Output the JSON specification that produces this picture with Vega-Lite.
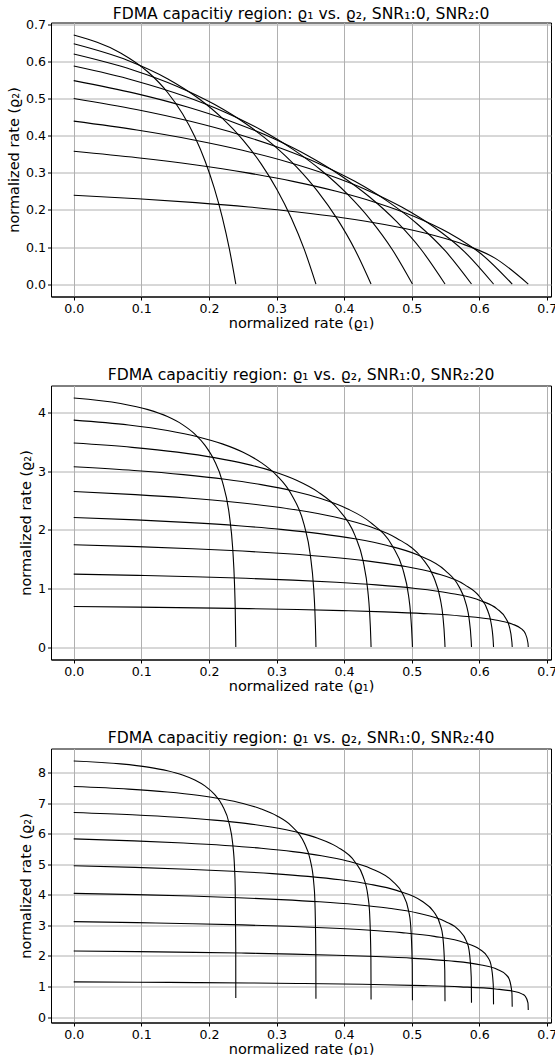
{
 "$schema": "https://vega.github.io/schema/vega-lite/v6.json",
 "background": "white",
 "padding": {"left": 5, "top": 6.5, "right": 0, "bottom": 0},
 "spacing": 89,
 "bounds": "flush",
 "config": {
  "font": "DejaVu Sans",
  "view": {"stroke": "black", "strokeWidth": 1},
  "axis": {
   "domainColor": "black", "domainWidth": 1,
   "tickColor": "black", "tickSize": 3.5, "tickWidth": 1,
   "labelFont": "DejaVu Sans", "labelFontSize": 12.6, "labelColor": "black", "labelPadding": 2,
   "titleFont": "DejaVu Sans", "titleFontSize": 14.5, "titleFontWeight": "normal", "titleColor": "black",
   "grid": true, "gridColor": "#b0b0b0", "gridWidth": 1
  },
  "axisX": {"titlePadding": 1.5},
  "axisY": {"titlePadding": 4},
  "title": {"font": "DejaVu Sans", "fontSize": 15.6, "fontWeight": "normal", "color": "black", "baseline": "alphabetic", "anchor": "middle"}
 },
 "datasets": {
  "p0": [
   {"k":1,"i":0,"x":0,"y":0.67249},{"k":1,"i":1,"x":0.06931,"y":0.62383},{"k":1,"i":2,"x":0.10986,"y":0.57239},{"k":1,"i":3,"x":0.13863,"y":0.51783},{"k":1,"i":4,"x":0.16094,"y":0.45974},{"k":1,"i":5,"x":0.17918,"y":0.39765},{"k":1,"i":6,"x":0.19459,"y":0.33095},{"k":1,"i":7,"x":0.20794,"y":0.25891},{"k":1,"i":8,"x":0.21972,"y":0.1806},{"k":1,"i":9,"x":0.23026,"y":0.09482},{"k":1,"i":10,"x":0.23979,"y":0},
   {"k":2,"i":0,"x":0,"y":0.64874},{"k":2,"i":1,"x":0.08109,"y":0.60302},{"k":2,"i":2,"x":0.13863,"y":0.55452},{"k":2,"i":3,"x":0.18326,"y":0.50289},{"k":2,"i":4,"x":0.21972,"y":0.44769},{"k":2,"i":5,"x":0.25055,"y":0.38841},{"k":2,"i":6,"x":0.27726,"y":0.32437},{"k":2,"i":7,"x":0.30082,"y":0.25476},{"k":2,"i":8,"x":0.32189,"y":0.17851},{"k":2,"i":9,"x":0.34095,"y":0.09423},{"k":2,"i":10,"x":0.35835,"y":0},
   {"k":3,"i":0,"x":0,"y":0.62111},{"k":3,"i":1,"x":0.0863,"y":0.57868},{"k":3,"i":2,"x":0.15325,"y":0.5335},{"k":3,"i":3,"x":0.20794,"y":0.4852},{"k":3,"i":4,"x":0.25419,"y":0.43333},{"k":3,"i":5,"x":0.29425,"y":0.3773},{"k":3,"i":6,"x":0.32958,"y":0.31639},{"k":3,"i":7,"x":0.36119,"y":0.24967},{"k":3,"i":8,"x":0.38978,"y":0.17592},{"k":3,"i":9,"x":0.41589,"y":0.09347},{"k":3,"i":10,"x":0.4399,"y":0},
   {"k":4,"i":0,"x":0,"y":0.5885},{"k":4,"i":1,"x":0.08926,"y":0.54977},{"k":4,"i":2,"x":0.16219,"y":0.50838},{"k":4,"i":3,"x":0.22385,"y":0.46391},{"k":4,"i":4,"x":0.27726,"y":0.41589},{"k":4,"i":5,"x":0.32437,"y":0.36368},{"k":4,"i":6,"x":0.36652,"y":0.3065},{"k":4,"i":7,"x":0.40464,"y":0.24328},{"k":4,"i":8,"x":0.43944,"y":0.17261},{"k":4,"i":9,"x":0.47146,"y":0.09249},{"k":4,"i":10,"x":0.50111,"y":0},
   {"k":5,"i":0,"x":0,"y":0.54931},{"k":5,"i":1,"x":0.09116,"y":0.51481},{"k":5,"i":2,"x":0.16824,"y":0.47776},{"k":5,"i":3,"x":0.235,"y":0.43773},{"k":5,"i":4,"x":0.29389,"y":0.39423},{"k":5,"i":5,"x":0.34657,"y":0.34657},{"k":5,"i":6,"x":0.39423,"y":0.29389},{"k":5,"i":7,"x":0.43773,"y":0.235},{"k":5,"i":8,"x":0.47776,"y":0.16824},{"k":5,"i":9,"x":0.51481,"y":0.09116},{"k":5,"i":10,"x":0.54931,"y":0},
   {"k":6,"i":0,"x":0,"y":0.50111},{"k":6,"i":1,"x":0.09249,"y":0.47146},{"k":6,"i":2,"x":0.17261,"y":0.43944},{"k":6,"i":3,"x":0.24328,"y":0.40464},{"k":6,"i":4,"x":0.3065,"y":0.36652},{"k":6,"i":5,"x":0.36368,"y":0.32437},{"k":6,"i":6,"x":0.41589,"y":0.27726},{"k":6,"i":7,"x":0.46391,"y":0.22385},{"k":6,"i":8,"x":0.50838,"y":0.16219},{"k":6,"i":9,"x":0.54977,"y":0.08926},{"k":6,"i":10,"x":0.5885,"y":0},
   {"k":7,"i":0,"x":0,"y":0.4399},{"k":7,"i":1,"x":0.09347,"y":0.41589},{"k":7,"i":2,"x":0.17592,"y":0.38978},{"k":7,"i":3,"x":0.24967,"y":0.36119},{"k":7,"i":4,"x":0.31639,"y":0.32958},{"k":7,"i":5,"x":0.3773,"y":0.29425},{"k":7,"i":6,"x":0.43333,"y":0.25419},{"k":7,"i":7,"x":0.4852,"y":0.20794},{"k":7,"i":8,"x":0.5335,"y":0.15325},{"k":7,"i":9,"x":0.57868,"y":0.0863},{"k":7,"i":10,"x":0.62111,"y":0},
   {"k":8,"i":0,"x":0,"y":0.35835},{"k":8,"i":1,"x":0.09423,"y":0.34095},{"k":8,"i":2,"x":0.17851,"y":0.32189},{"k":8,"i":3,"x":0.25476,"y":0.30082},{"k":8,"i":4,"x":0.32437,"y":0.27726},{"k":8,"i":5,"x":0.38841,"y":0.25055},{"k":8,"i":6,"x":0.44769,"y":0.21972},{"k":8,"i":7,"x":0.50289,"y":0.18326},{"k":8,"i":8,"x":0.55452,"y":0.13863},{"k":8,"i":9,"x":0.60302,"y":0.08109},{"k":8,"i":10,"x":0.64874,"y":0},
   {"k":9,"i":0,"x":0,"y":0.23979},{"k":9,"i":1,"x":0.09482,"y":0.23026},{"k":9,"i":2,"x":0.1806,"y":0.21972},{"k":9,"i":3,"x":0.25891,"y":0.20794},{"k":9,"i":4,"x":0.33095,"y":0.19459},{"k":9,"i":5,"x":0.39765,"y":0.17918},{"k":9,"i":6,"x":0.45974,"y":0.16094},{"k":9,"i":7,"x":0.51783,"y":0.13863},{"k":9,"i":8,"x":0.57239,"y":0.10986},{"k":9,"i":9,"x":0.62383,"y":0.06931},{"k":9,"i":10,"x":0.67249,"y":0}
  ],
  "p20": [
   {"k":1,"i":0,"x":0,"y":4.24754},{"k":1,"i":1,"x":0.06931,"y":4.15361},{"k":1,"i":2,"x":0.10986,"y":4.04871},{"k":1,"i":3,"x":0.13863,"y":3.92998},{"k":1,"i":4,"x":0.16094,"y":3.79313},{"k":1,"i":5,"x":0.17918,"y":3.6317},{"k":1,"i":6,"x":0.19459,"y":3.43484},{"k":1,"i":7,"x":0.20794,"y":3.18251},{"k":1,"i":8,"x":0.21972,"y":2.8306},{"k":1,"i":9,"x":0.23026,"y":2.24471},{"k":1,"i":10,"x":0.23514,"y":1.69228},{"k":1,"i":11,"x":0.23795,"y":1.05306},{"k":1,"i":12,"x":0.23888,"y":0.67249},{"k":1,"i":13,"x":0.2397,"y":0.09482},{"k":1,"i":14,"x":0.23979,"y":0},
   {"k":2,"i":0,"x":0,"y":3.86902},{"k":2,"i":1,"x":0.08109,"y":3.78544},{"k":2,"i":2,"x":0.13863,"y":3.6921},{"k":2,"i":3,"x":0.18326,"y":3.5864},{"k":2,"i":4,"x":0.21972,"y":3.46458},{"k":2,"i":5,"x":0.25055,"y":3.32083},{"k":2,"i":6,"x":0.27726,"y":3.14546},{"k":2,"i":7,"x":0.30082,"y":2.92053},{"k":2,"i":8,"x":0.32189,"y":2.60648},{"k":2,"i":9,"x":0.34095,"y":2.08215},{"k":2,"i":10,"x":0.34984,"y":1.5848},{"k":2,"i":11,"x":0.35499,"y":1.00221},{"k":2,"i":12,"x":0.35668,"y":0.64874},{"k":2,"i":13,"x":0.35819,"y":0.09423},{"k":2,"i":14,"x":0.35835,"y":0},
   {"k":3,"i":0,"x":0,"y":3.47817},{"k":3,"i":1,"x":0.0863,"y":3.40496},{"k":3,"i":2,"x":0.15325,"y":3.32319},{"k":3,"i":3,"x":0.20794,"y":3.23058},{"k":3,"i":4,"x":0.25419,"y":3.12383},{"k":3,"i":5,"x":0.29425,"y":2.99782},{"k":3,"i":6,"x":0.32958,"y":2.84403},{"k":3,"i":7,"x":0.36119,"y":2.64665},{"k":3,"i":8,"x":0.38978,"y":2.37077},{"k":3,"i":9,"x":0.41589,"y":1.90884},{"k":3,"i":10,"x":0.42813,"y":1.468},{"k":3,"i":11,"x":0.43525,"y":0.94495},{"k":3,"i":12,"x":0.43758,"y":0.62111},{"k":3,"i":13,"x":0.43967,"y":0.09347},{"k":3,"i":14,"x":0.4399,"y":0},
   {"k":4,"i":0,"x":0,"y":3.07318},{"k":4,"i":1,"x":0.08926,"y":3.01037},{"k":4,"i":2,"x":0.16219,"y":2.9402},{"k":4,"i":3,"x":0.22385,"y":2.86071},{"k":4,"i":4,"x":0.27726,"y":2.76907},{"k":4,"i":5,"x":0.32437,"y":2.66087},{"k":4,"i":6,"x":0.36652,"y":2.52875},{"k":4,"i":7,"x":0.40464,"y":2.3591},{"k":4,"i":8,"x":0.43944,"y":2.12167},{"k":4,"i":9,"x":0.47146,"y":1.72301},{"k":4,"i":10,"x":0.48656,"y":1.34015},{"k":4,"i":11,"x":0.49535,"y":0.8798},{"k":4,"i":12,"x":0.49824,"y":0.5885},{"k":4,"i":13,"x":0.50082,"y":0.09249},{"k":4,"i":14,"x":0.50111,"y":0},
   {"k":5,"i":0,"x":0,"y":2.65165},{"k":5,"i":1,"x":0.09116,"y":2.59925},{"k":5,"i":2,"x":0.16824,"y":2.5407},{"k":5,"i":3,"x":0.235,"y":2.47438},{"k":5,"i":4,"x":0.29389,"y":2.3979},{"k":5,"i":5,"x":0.34657,"y":2.30756},{"k":5,"i":6,"x":0.39423,"y":2.19722},{"k":5,"i":7,"x":0.43773,"y":2.05544},{"k":5,"i":8,"x":0.47776,"y":1.85679},{"k":5,"i":9,"x":0.51481,"y":1.52226},{"k":5,"i":10,"x":0.53236,"y":1.19895},{"k":5,"i":11,"x":0.54259,"y":0.80472},{"k":5,"i":12,"x":0.54596,"y":0.54931},{"k":5,"i":13,"x":0.54897,"y":0.09116},{"k":5,"i":14,"x":0.54931,"y":0},
   {"k":6,"i":0,"x":0,"y":2.21018},{"k":6,"i":1,"x":0.09249,"y":2.16821},{"k":6,"i":2,"x":0.17261,"y":2.12132},{"k":6,"i":3,"x":0.24328,"y":2.06819},{"k":6,"i":4,"x":0.3065,"y":2.00691},{"k":6,"i":5,"x":0.36368,"y":1.93451},{"k":6,"i":6,"x":0.41589,"y":1.84605},{"k":6,"i":7,"x":0.46391,"y":1.73229},{"k":6,"i":8,"x":0.50838,"y":1.57273},{"k":6,"i":9,"x":0.54977,"y":1.30324},{"k":6,"i":10,"x":0.56945,"y":1.04108},{"k":6,"i":11,"x":0.58095,"y":0.7167},{"k":6,"i":12,"x":0.58474,"y":0.50111},{"k":6,"i":13,"x":0.58812,"y":0.08926},{"k":6,"i":14,"x":0.5885,"y":0},
   {"k":7,"i":0,"x":0,"y":1.74364},{"k":7,"i":1,"x":0.09347,"y":1.71213},{"k":7,"i":2,"x":0.17592,"y":1.67692},{"k":7,"i":3,"x":0.24967,"y":1.63702},{"k":7,"i":4,"x":0.31639,"y":1.59099},{"k":7,"i":5,"x":0.3773,"y":1.53659},{"k":7,"i":6,"x":0.43333,"y":1.4701},{"k":7,"i":7,"x":0.4852,"y":1.38454},{"k":7,"i":8,"x":0.5335,"y":1.26438},{"k":7,"i":9,"x":0.57868,"y":1.06084},{"k":7,"i":10,"x":0.60022,"y":0.8615},{"k":7,"i":11,"x":0.61283,"y":0.61106},{"k":7,"i":12,"x":0.61698,"y":0.4399},{"k":7,"i":13,"x":0.6207,"y":0.0863},{"k":7,"i":14,"x":0.62111,"y":0},
   {"k":8,"i":0,"x":0,"y":1.24332},{"k":8,"i":1,"x":0.09423,"y":1.22229},{"k":8,"i":2,"x":0.17851,"y":1.19879},{"k":8,"i":3,"x":0.25476,"y":1.17216},{"k":8,"i":4,"x":0.32437,"y":1.14142},{"k":8,"i":5,"x":0.38841,"y":1.10509},{"k":8,"i":6,"x":0.44769,"y":1.06066},{"k":8,"i":7,"x":0.50289,"y":1.00346},{"k":8,"i":8,"x":0.55452,"y":0.92302},{"k":8,"i":9,"x":0.60302,"y":0.78637},{"k":8,"i":10,"x":0.62621,"y":0.65162},{"k":8,"i":11,"x":0.63981,"y":0.47958},{"k":8,"i":12,"x":0.64429,"y":0.35835},{"k":8,"i":13,"x":0.6483,"y":0.08109},{"k":8,"i":14,"x":0.64874,"y":0},
   {"k":9,"i":0,"x":0,"y":0.69088},{"k":9,"i":1,"x":0.09482,"y":0.68035},{"k":9,"i":2,"x":0.1806,"y":0.66859},{"k":9,"i":3,"x":0.25891,"y":0.65525},{"k":9,"i":4,"x":0.33095,"y":0.63986},{"k":9,"i":5,"x":0.39765,"y":0.62166},{"k":9,"i":6,"x":0.45974,"y":0.5994},{"k":9,"i":7,"x":0.51783,"y":0.57071},{"k":9,"i":8,"x":0.57239,"y":0.53033},{"k":9,"i":9,"x":0.62383,"y":0.46151},{"k":9,"i":10,"x":0.64849,"y":0.39318},{"k":9,"i":11,"x":0.66297,"y":0.30445},{"k":9,"i":12,"x":0.66774,"y":0.23979},{"k":9,"i":13,"x":0.67202,"y":0.06931},{"k":9,"i":14,"x":0.67249,"y":0}
  ],
  "p40": [
   {"k":1,"i":0,"x":0,"y":8.38421},{"k":1,"i":1,"x":0.06931,"y":8.2894},{"k":1,"i":2,"x":0.10986,"y":8.1834},{"k":1,"i":3,"x":0.13863,"y":8.06324},{"k":1,"i":4,"x":0.16094,"y":7.92452},{"k":1,"i":5,"x":0.17918,"y":7.76046},{"k":1,"i":6,"x":0.19459,"y":7.55967},{"k":1,"i":7,"x":0.20794,"y":7.30083},{"k":1,"i":8,"x":0.21972,"y":6.93604},{"k":1,"i":9,"x":0.23026,"y":6.31262},{"k":1,"i":10,"x":0.23514,"y":5.68959},{"k":1,"i":11,"x":0.23795,"y":4.86736},{"k":1,"i":12,"x":0.23888,"y":4.24754},{"k":1,"i":13,"x":0.2397,"y":2.24471},{"k":1,"i":14,"x":0.23979,"y":0.62383},
   {"k":2,"i":0,"x":0,"y":7.54685},{"k":2,"i":1,"x":0.08109,"y":7.46257},{"k":2,"i":2,"x":0.13863,"y":7.36835},{"k":2,"i":3,"x":0.18326,"y":7.26154},{"k":2,"i":4,"x":0.21972,"y":7.13822},{"k":2,"i":5,"x":0.25055,"y":6.99239},{"k":2,"i":6,"x":0.27726,"y":6.81391},{"k":2,"i":7,"x":0.30082,"y":6.58382},{"k":2,"i":8,"x":0.32189,"y":6.25955},{"k":2,"i":9,"x":0.34095,"y":5.70536},{"k":2,"i":10,"x":0.34984,"y":5.15148},{"k":2,"i":11,"x":0.35499,"y":4.42037},{"k":2,"i":12,"x":0.35668,"y":3.86902},{"k":2,"i":13,"x":0.35819,"y":2.08215},{"k":2,"i":14,"x":0.35835,"y":0.60302},
   {"k":3,"i":0,"x":0,"y":6.69696},{"k":3,"i":1,"x":0.0863,"y":6.62322},{"k":3,"i":2,"x":0.15325,"y":6.54078},{"k":3,"i":3,"x":0.20794,"y":6.44731},{"k":3,"i":4,"x":0.25419,"y":6.33942},{"k":3,"i":5,"x":0.29425,"y":6.21181},{"k":3,"i":6,"x":0.32958,"y":6.05564},{"k":3,"i":7,"x":0.36119,"y":5.8543},{"k":3,"i":8,"x":0.38978,"y":5.57055},{"k":3,"i":9,"x":0.41589,"y":5.0856},{"k":3,"i":10,"x":0.42813,"y":4.60088},{"k":3,"i":11,"x":0.43525,"y":3.96095},{"k":3,"i":12,"x":0.43758,"y":3.47817},{"k":3,"i":13,"x":0.43967,"y":1.90884},{"k":3,"i":14,"x":0.4399,"y":0.57868},
   {"k":4,"i":0,"x":0,"y":5.83274},{"k":4,"i":1,"x":0.08926,"y":5.76953},{"k":4,"i":2,"x":0.16219,"y":5.69886},{"k":4,"i":3,"x":0.22385,"y":5.61875},{"k":4,"i":4,"x":0.27726,"y":5.52626},{"k":4,"i":5,"x":0.32437,"y":5.41688},{"k":4,"i":6,"x":0.36652,"y":5.28302},{"k":4,"i":7,"x":0.40464,"y":5.11044},{"k":4,"i":8,"x":0.43944,"y":4.86722},{"k":4,"i":9,"x":0.47146,"y":4.45151},{"k":4,"i":10,"x":0.48656,"y":4.03598},{"k":4,"i":11,"x":0.49535,"y":3.48729},{"k":4,"i":12,"x":0.49824,"y":3.07318},{"k":4,"i":13,"x":0.50082,"y":1.72301},{"k":4,"i":14,"x":0.50111,"y":0.54977},
   {"k":5,"i":0,"x":0,"y":4.95177},{"k":5,"i":1,"x":0.09116,"y":4.89909},{"k":5,"i":2,"x":0.16824,"y":4.8402},{"k":5,"i":3,"x":0.235,"y":4.77344},{"k":5,"i":4,"x":0.29389,"y":4.69637},{"k":5,"i":5,"x":0.34657,"y":4.60522},{"k":5,"i":6,"x":0.39423,"y":4.49366},{"k":5,"i":7,"x":0.43773,"y":4.34984},{"k":5,"i":8,"x":0.47776,"y":4.14715},{"k":5,"i":9,"x":0.51481,"y":3.8007},{"k":5,"i":10,"x":0.53236,"y":3.45438},{"k":5,"i":11,"x":0.54259,"y":2.99698},{"k":5,"i":12,"x":0.54596,"y":2.65165},{"k":5,"i":13,"x":0.54897,"y":1.52226},{"k":5,"i":14,"x":0.54931,"y":0.51481},
   {"k":6,"i":0,"x":0,"y":4.05067},{"k":6,"i":1,"x":0.09249,"y":4.00852},{"k":6,"i":2,"x":0.17261,"y":3.96142},{"k":6,"i":3,"x":0.24328,"y":3.90801},{"k":6,"i":4,"x":0.3065,"y":3.84635},{"k":6,"i":5,"x":0.36368,"y":3.77342},{"k":6,"i":6,"x":0.41589,"y":3.68418},{"k":6,"i":7,"x":0.46391,"y":3.56912},{"k":6,"i":8,"x":0.50838,"y":3.40696},{"k":6,"i":9,"x":0.54977,"y":3.12978},{"k":6,"i":10,"x":0.56945,"y":2.85268},{"k":6,"i":11,"x":0.58095,"y":2.48664},{"k":6,"i":12,"x":0.58474,"y":2.21018},{"k":6,"i":13,"x":0.58812,"y":1.30324},{"k":6,"i":14,"x":0.5885,"y":0.47146},
   {"k":7,"i":0,"x":0,"y":3.1243},{"k":7,"i":1,"x":0.09347,"y":3.09269},{"k":7,"i":2,"x":0.17592,"y":3.05736},{"k":7,"i":3,"x":0.24967,"y":3.0173},{"k":7,"i":4,"x":0.31639,"y":2.97106},{"k":7,"i":5,"x":0.3773,"y":2.91637},{"k":7,"i":6,"x":0.43333,"y":2.84943},{"k":7,"i":7,"x":0.4852,"y":2.76313},{"k":7,"i":8,"x":0.5335,"y":2.64151},{"k":7,"i":9,"x":0.57868,"y":2.43361},{"k":7,"i":10,"x":0.60022,"y":2.22575},{"k":7,"i":11,"x":0.61283,"y":1.95114},{"k":7,"i":12,"x":0.61698,"y":1.74364},{"k":7,"i":13,"x":0.6207,"y":1.06084},{"k":7,"i":14,"x":0.62111,"y":0.41589},
   {"k":8,"i":0,"x":0,"y":2.16396},{"k":8,"i":1,"x":0.09423,"y":2.14289},{"k":8,"i":2,"x":0.17851,"y":2.11933},{"k":8,"i":3,"x":0.25476,"y":2.09263},{"k":8,"i":4,"x":0.32437,"y":2.0618},{"k":8,"i":5,"x":0.38841,"y":2.02533},{"k":8,"i":6,"x":0.44769,"y":1.98071},{"k":8,"i":7,"x":0.50289,"y":1.92318},{"k":8,"i":8,"x":0.55452,"y":1.84209},{"k":8,"i":9,"x":0.60302,"y":1.70348},{"k":8,"i":10,"x":0.62621,"y":1.56489},{"k":8,"i":11,"x":0.63981,"y":1.38175},{"k":8,"i":12,"x":0.64429,"y":1.24332},{"k":8,"i":13,"x":0.6483,"y":0.78637},{"k":8,"i":14,"x":0.64874,"y":0.34095},
   {"k":9,"i":0,"x":0,"y":1.15129},{"k":9,"i":1,"x":0.09482,"y":1.14076},{"k":9,"i":2,"x":0.1806,"y":1.12898},{"k":9,"i":3,"x":0.25891,"y":1.11563},{"k":9,"i":4,"x":0.33095,"y":1.10021},{"k":9,"i":5,"x":0.39765,"y":1.08198},{"k":9,"i":6,"x":0.45974,"y":1.05967},{"k":9,"i":7,"x":0.51783,"y":1.0309},{"k":9,"i":8,"x":0.57239,"y":0.99035},{"k":9,"i":9,"x":0.62383,"y":0.92104},{"k":9,"i":10,"x":0.64849,"y":0.85172},{"k":9,"i":11,"x":0.66297,"y":0.76014},{"k":9,"i":12,"x":0.66774,"y":0.69088},{"k":9,"i":13,"x":0.67202,"y":0.46151},{"k":9,"i":14,"x":0.67249,"y":0.23026}
  ]
 },
 "vconcat": [
  {
   "width": 500, "height": 274,
   "title": {"text": "FDMA capacitiy region: ϱ₁ vs. ϱ₂, SNR₁:0, SNR₂:0", "offset": -4},
   "data": {"name": "p0"},
   "mark": {"type": "line", "color": "black", "strokeWidth": 1.1, "interpolate": "monotone"},
   "encoding": {
    "x": {"field": "x", "type": "quantitative", "scale": {"domain": [-0.033625, 0.706115], "nice": false, "zero": false}, "axis": {"values": [0, 0.1, 0.2, 0.3, 0.4, 0.5, 0.6, 0.7], "format": ".1f", "title": "normalized rate (ϱ₁)"}},
    "y": {"field": "y", "type": "quantitative", "scale": {"domain": [-0.033625, 0.706115], "nice": false, "zero": false}, "axis": {"values": [0, 0.1, 0.2, 0.3, 0.4, 0.5, 0.6, 0.7], "format": ".1f", "title": "normalized rate (ϱ₂)"}},
    "detail": {"field": "k", "type": "nominal"},
    "order": {"field": "i", "type": "quantitative"}
   }
  },
  {
   "width": 500, "height": 274,
   "title": {"text": "FDMA capacitiy region: ϱ₁ vs. ϱ₂, SNR₁:0, SNR₂:20", "offset": 2},
   "data": {"name": "p20"},
   "mark": {"type": "line", "color": "black", "strokeWidth": 1.1, "interpolate": "monotone"},
   "encoding": {
    "x": {"field": "x", "type": "quantitative", "scale": {"domain": [-0.033625, 0.706115], "nice": false, "zero": false}, "axis": {"values": [0, 0.1, 0.2, 0.3, 0.4, 0.5, 0.6, 0.7], "format": ".1f", "title": "normalized rate (ϱ₁)"}},
    "y": {"field": "y", "type": "quantitative", "scale": {"domain": [-0.21238, 4.45992], "nice": false, "zero": false}, "axis": {"values": [0, 1, 2, 3, 4], "format": "d", "title": "normalized rate (ϱ₂)"}},
    "detail": {"field": "k", "type": "nominal"},
    "order": {"field": "i", "type": "quantitative"}
   }
  },
  {
   "width": 500, "height": 274,
   "title": {"text": "FDMA capacitiy region: ϱ₁ vs. ϱ₂, SNR₁:0, SNR₂:40", "offset": 2},
   "data": {"name": "p40"},
   "mark": {"type": "line", "color": "black", "strokeWidth": 1.1, "interpolate": "monotone"},
   "encoding": {
    "x": {"field": "x", "type": "quantitative", "scale": {"domain": [-0.033625, 0.706115], "nice": false, "zero": false}, "axis": {"values": [0, 0.1, 0.2, 0.3, 0.4, 0.5, 0.6, 0.7], "format": ".1f", "title": "normalized rate (ϱ₁)"}},
    "y": {"field": "y", "type": "quantitative", "scale": {"domain": [-0.17744, 8.79191], "nice": false, "zero": false}, "axis": {"values": [0, 1, 2, 3, 4, 5, 6, 7, 8], "format": "d", "title": "normalized rate (ϱ₂)"}},
    "detail": {"field": "k", "type": "nominal"},
    "order": {"field": "i", "type": "quantitative"}
   }
  }
 ]
}
